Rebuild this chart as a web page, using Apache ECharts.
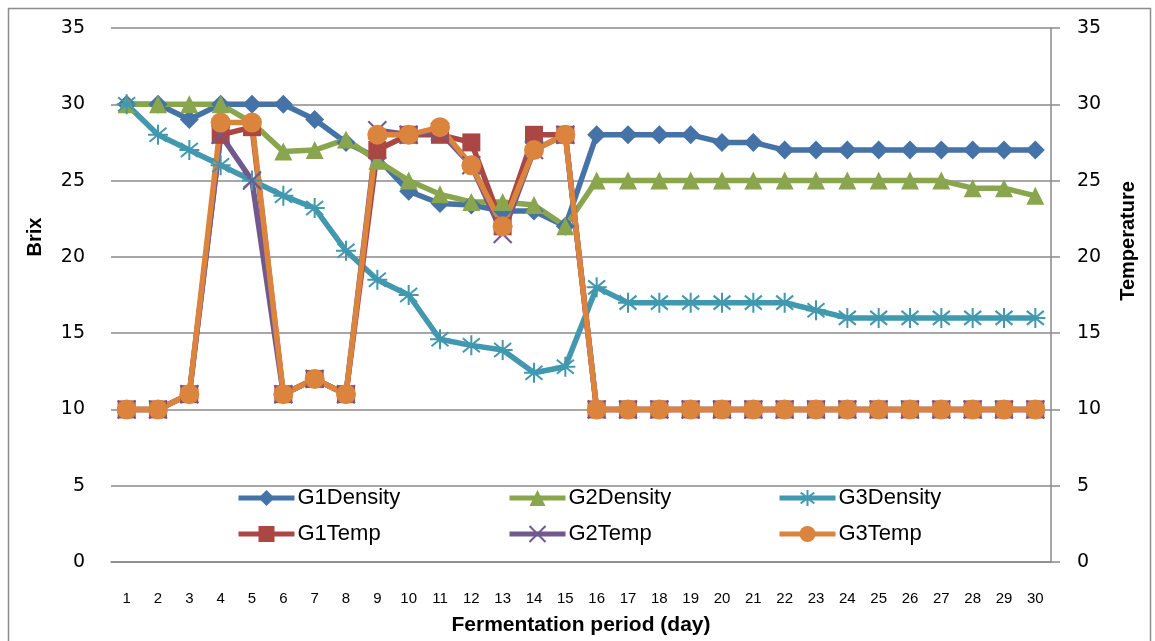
<!DOCTYPE html>
<html>
<head>
<meta charset="utf-8">
<script src="https://cdn.jsdelivr.net/npm/echarts@6/dist/echarts.min.js"></script>
<style>
html,body{margin:0;padding:0;background:#fff;}
#chart{width:1155px;height:641px;}
</style>
</head>
<body>
<div id="chart"></div>
<script>
const days = ['1','2','3','4','5','6','7','8','9','10','11','12','13','14','15','16','17','18','19','20','21','22','23','24','25','26','27','28','29','30'];
const g1Density = [30,30,29,30,30,30,29,27.5,26.5,24.3,23.5,23.4,23,23,22,28,28,28,28,27.5,27.5,27,27,27,27,27,27,27,27,27];
const g2Density = [30,30,30,30,28.8,26.9,27,27.7,26.3,25,24.1,23.6,23.6,23.4,22,25,25,25,25,25,25,25,25,25,25,25,25,24.5,24.5,24];
const g3Density = [30,28,27,26,25,24,23.2,20.4,18.5,17.5,14.6,14.2,13.9,12.4,12.8,18,17,17,17,17,17,17,16.5,16,16,16,16,16,16,16];
const g1Temp = [10,10,11,28,28.5,11,12,11,27,28,28,27.5,22,28,28,10,10,10,10,10,10,10,10,10,10,10,10,10,10,10];
const g2Temp = [10,10,11,28,25,11,12,11,28.3,28,28.2,26,21.5,27,28,10,10,10,10,10,10,10,10,10,10,10,10,10,10,10];
const g3Temp = [10,10,11,28.8,28.8,11,12,11,28,28,28.5,26,22,27,28,10,10,10,10,10,10,10,10,10,10,10,10,10,10,10];
const yTicks = [0,5,10,15,20,25,30,35];

const names = ['G1Density','G2Density','G3Density','G1Temp','G2Temp','G3Temp'];
const colors = ['#4572A7','#89A54E','#4198AF','#AA4643','#71588F','#DB843D'];
const asterisk = 'path://M10,0 L10,20 M1.5,3 L18.5,17 M18.5,3 L1.5,17 M0,10 L20,10';
const cross = 'path://M0,0 L20,20 M20,0 L0,20';
const symbols = ['diamond','triangle',asterisk,'rect',cross,'circle'];
const sizes = [19,18,20,18,18,20];
const datasets = [g1Density,g2Density,g3Density,g1Temp,g2Temp,g3Temp];

const gridColor = '#8a8a8a';
const series = names.map((n,i)=>({
  name:n,
  type:'line',
  yAxisIndex: i<3?0:1,
  data: datasets[i],
  symbol: symbols[i],
  symbolSize: sizes[i],
  showAllSymbol:true,
  lineStyle:{color:colors[i],width:5.5},
  itemStyle:{color:colors[i],borderColor:colors[i],borderWidth:(i===2||i===4)?2:0},
  emphasis:{disabled:true}
}));

const legendPos = [[236,487],[507,487],[777,487],[236,523],[507,523],[777,523]];
const legends = names.map((n,i)=>({
  data:[n],
  left:legendPos[i][0],
  top:legendPos[i][1],
  padding:0,
  itemWidth:56,
  itemHeight:20,
  lineStyle:{width:5},
  textStyle:{fontFamily:'Liberation Sans, Arial, sans-serif',fontSize:22,color:'#000',padding:[0,0,0,-2]},
  selectedMode:false
}));

const chart = echarts.init(document.getElementById('chart'),null,{renderer:'canvas'});
chart.setOption({
  animation:false,
  backgroundColor:'#fff',
  grid:{left:111,right:104,top:28,bottom:77,containLabel:false},
  legend:legends,
  xAxis:{
    type:'category',
    data:days,
    boundaryGap:true,
    axisLine:{show:true,lineStyle:{color:gridColor,width:1.5}},
    axisTick:{show:false},
    axisLabel:{margin:29,fontFamily:'Liberation Sans Narrow, Arial Narrow, Liberation Sans, sans-serif',fontSize:15,color:'#000',interval:0},
    name:'Fermentation period (day)',
    nameLocation:'middle',
    nameGap:53,
    nameTextStyle:{fontFamily:'Liberation Sans, Arial, sans-serif',fontWeight:'bold',fontSize:21,color:'#000'}
  },
  yAxis:[
    {type:'value',min:yTicks[0],max:yTicks[yTicks.length-1],interval:5,
     axisLine:{show:false},axisTick:{show:false},
     splitLine:{show:true,lineStyle:{color:gridColor,width:1.5}},
     axisLabel:{margin:26,fontFamily:'DejaVu Sans, Verdana, sans-serif',fontSize:19,color:'#000'}},
    {type:'value',min:yTicks[0],max:yTicks[yTicks.length-1],interval:5,position:'right',
     axisLine:{show:true,lineStyle:{color:gridColor,width:1.5}},
     axisTick:{show:true,length:9,lineStyle:{color:gridColor,width:1.5}},
     splitLine:{show:false},
     axisLabel:{margin:26,fontFamily:'DejaVu Sans, Verdana, sans-serif',fontSize:19,color:'#000'}}
  ],
  graphic:[
    {type:'rect',shape:{x:8.5,y:8.5,width:1142,height:645},style:{fill:'none',stroke:'#8c8c8c',lineWidth:1.5},silent:true,z:-10},
    {type:'text',x:35,y:237,rotation:Math.PI/2,style:{text:'Brix',align:'center',verticalAlign:'middle',fontFamily:'Liberation Sans, Arial, sans-serif',fontWeight:'bold',fontSize:20,fill:'#000'}},
    {type:'text',x:1128,y:241,rotation:Math.PI/2,style:{text:'Temperature',align:'center',verticalAlign:'middle',fontFamily:'Liberation Sans, Arial, sans-serif',fontWeight:'bold',fontSize:20,fill:'#000'}}
  ],
  series:series
});
</script>
</body>
</html>
